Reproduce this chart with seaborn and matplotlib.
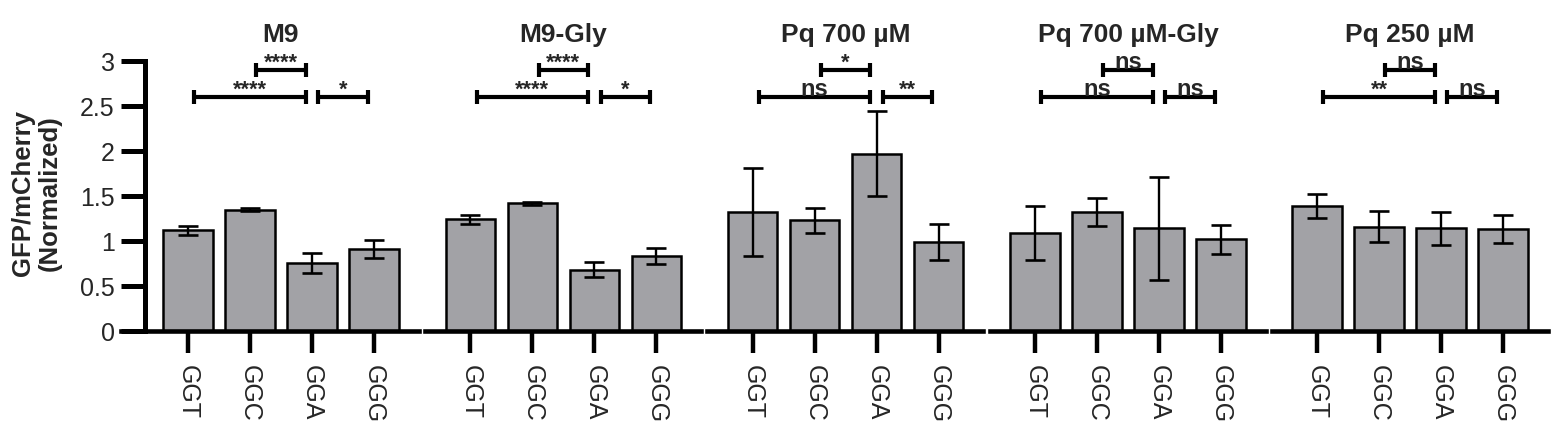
import numpy as np
import seaborn as sns
import matplotlib
matplotlib.use("Agg")
import matplotlib.pyplot as plt

# data (mean and error per codon)
codons = ["GGT", "GGC", "GGA", "GGG"]
conditions = ["M9", "M9-Gly", "Pq 700 µM", "Pq 700 µM-Gly", "Pq 250 µM"]

m9_mean = [1.12, 1.35, 0.76, 0.91]
m9_err = [0.05, 0.012, 0.11, 0.10]
m9gly_mean = [1.24, 1.42, 0.68, 0.83]
m9gly_err = [0.05, 0.015, 0.085, 0.09]
pq700_mean = [1.32, 1.23, 1.97, 0.99]
pq700_err = [0.49, 0.14, 0.47, 0.20]
pq700gly_mean = [1.09, 1.32, 1.14, 1.02]
pq700gly_err = [0.30, 0.155, 0.57, 0.16]
pq250_mean = [1.39, 1.16, 1.14, 1.13]
pq250_err = [0.135, 0.17, 0.18, 0.155]

means = [m9_mean, m9gly_mean, pq700_mean, pq700gly_mean, pq250_mean]
errors = [m9_err, m9gly_err, pq700_err, pq700gly_err, pq250_err]

# significance: GGT vs GGA, GGC vs GGA, GGA vs GGG
sig_ggt_gga = ["****", "****", "ns", "ns", "**"]
sig_ggc_gga = ["****", "****", "*", "ns", "ns"]
sig_gga_ggg = ["*", "*", "**", "ns", "ns"]

yticks = [0, 0.5, 1, 1.5, 2, 2.5, 3]
ytick_labels = ["0", "0.5", "1", "1.5", "2", "2.5", "3"]

sns.set_style("ticks")
plt.rcParams["font.family"] = ["Liberation Sans", "DejaVu Sans"]

W, H = 1559, 435
fig = plt.figure(figsize=(W / 100, H / 100), dpi=100)

bar_color = "#a2a2a6"
unit = 62.0          # px per category
pitch = 282.3        # px between panels
first_center = 188.0
bottom = (H - 332) / H
height = 270 / H


def bracket(ax, x1, x2, y, label):
    ax.plot([x1, x2], [y, y], color="black", lw=3.0, clip_on=False,
            solid_capstyle="butt")
    for xx in (x1, x2):
        ax.plot([xx, xx], [y - 0.08, y + 0.08], color="black", lw=3.0,
                clip_on=False, solid_capstyle="butt")
    fs = 17 if label == "ns" else 15.5
    ax.text((x1 + x2) / 2, y + 0.025, label, ha="center", va="baseline",
            fontsize=fs, fontweight="bold", clip_on=False)


for i, cond in enumerate(conditions):
    c0 = first_center + pitch * i
    xmin = -1.08 if i == 0 else -0.73
    xmax = 3.72
    left = c0 + xmin * unit
    width = (xmax - xmin) * unit
    ax = fig.add_axes([left / W, bottom, width / W, height])

    sns.barplot(x=codons, y=means[i], color=bar_color, saturation=1,
                edgecolor="black", linewidth=1.8, width=0.8, ax=ax, zorder=2)
    ax.errorbar(np.arange(4), means[i], yerr=errors[i], fmt="none",
                ecolor="black", elinewidth=1.7, capsize=7, capthick=1.9,
                zorder=3)

    ax.set_xlim(xmin, xmax)
    ax.set_ylim(0, 3)
    ax.set_xlabel("")
    ax.set_ylabel("")
    ax.set_xticks(range(4))
    ax.set_xticklabels(codons, rotation=-90, fontsize=18)
    ax.tick_params(axis="x", length=16, width=3.2, pad=8, color="black")

    for s in ("top", "right"):
        ax.spines[s].set_visible(False)
    ax.spines["bottom"].set_linewidth(3.3)
    ax.spines["bottom"].set_color("black")
    if i == 0:
        ax.spines["left"].set_position(("data", -0.69))
        ax.spines["left"].set_linewidth(3.6)
        ax.spines["left"].set_color("black")
        ax.set_yticks(yticks)
        ax.set_yticklabels(ytick_labels, fontsize=18)
        ax.tick_params(axis="y", length=17, width=3.6, pad=5, color="black")
    else:
        ax.spines["left"].set_visible(False)
        ax.set_yticks([])

    ax.text(1.5, 3.22, cond, ha="center", va="baseline", fontsize=19,
            fontweight="bold", clip_on=False)

    bracket(ax, 0.1, 1.9, 2.6, sig_ggt_gga[i])
    bracket(ax, 1.1, 1.9, 2.9, sig_ggc_gga[i])
    bracket(ax, 2.1, 2.9, 2.6, sig_gga_ggg[i])

fig.text(36 / W, (H - 193) / H, "GFP/mCherry\n(Normalized)", rotation=90,
         ha="center", va="center", fontsize=18.5, fontweight="bold",
         linespacing=1.15)

fig.savefig("out.png", dpi=100)
